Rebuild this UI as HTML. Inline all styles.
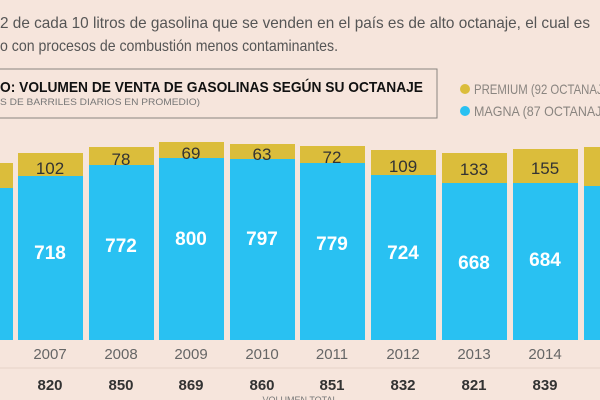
<!DOCTYPE html>
<html><head><meta charset="utf-8"><style>
html,body{margin:0;padding:0;background:#f6e5dc;}
svg{display:block;font-family:"Liberation Sans",sans-serif;}
</style></head><body>
<svg width="600" height="400" viewBox="0 0 600 400">
<rect width="600" height="400" fill="#f6e5dc"/>
<text x="0" y="28" font-size="16" fill="#555" textLength="590" lengthAdjust="spacingAndGlyphs">2 de cada 10 litros de gasolina que se venden en el país es de alto octanaje, el cual es</text>
<text x="0" y="51" font-size="16" fill="#555" textLength="338" lengthAdjust="spacingAndGlyphs">o con procesos de combustión menos contaminantes.</text>
<rect x="-5" y="69" width="442" height="49" fill="none" stroke="#8a8580" stroke-width="1"/>
<text x="0" y="92" font-size="15" font-weight="bold" fill="#111" textLength="423" lengthAdjust="spacingAndGlyphs">O: VOLUMEN DE VENTA DE GASOLINAS SEGÚN SU OCTANAJE</text>
<text x="0" y="105" font-size="9.5" fill="#777" textLength="200" lengthAdjust="spacingAndGlyphs">S DE BARRILES DIARIOS EN PROMEDIO)</text>
<circle cx="465" cy="89" r="5" fill="#dbbd3b"/>
<circle cx="465" cy="111" r="5" fill="#29c1f2"/>
<text x="474" y="94" font-size="14" fill="#8a8580" textLength="140" lengthAdjust="spacingAndGlyphs">PREMIUM (92 OCTANAJE)</text>
<text x="474" y="116" font-size="14" fill="#8a8580" textLength="140" lengthAdjust="spacingAndGlyphs">MAGNA (87 OCTANAJE)</text>
<g id="bars"></g>
<line x1="0" y1="368" x2="600" y2="368" stroke="#e6d3c8" stroke-width="1"/>
<text x="300" y="403" font-size="9" fill="#777" text-anchor="middle">VOLUMEN TOTAL</text>
<!-- bars -->
<g font-size="17" text-anchor="middle">
<rect x="-52" y="163" width="65" height="25" fill="#dbbd3b"/><rect x="-52" y="188" width="65" height="152" fill="#29c1f2"/>
<rect x="18" y="153" width="65" height="23" fill="#dbbd3b"/><rect x="18" y="176" width="65" height="164" fill="#29c1f2"/>
<rect x="89" y="147" width="65" height="18" fill="#dbbd3b"/><rect x="89" y="165" width="65" height="175" fill="#29c1f2"/>
<rect x="159" y="142" width="65" height="16" fill="#dbbd3b"/><rect x="159" y="158" width="65" height="182" fill="#29c1f2"/>
<rect x="230" y="144" width="65" height="15" fill="#dbbd3b"/><rect x="230" y="159" width="65" height="181" fill="#29c1f2"/>
<rect x="300" y="146" width="65" height="17" fill="#dbbd3b"/><rect x="300" y="163" width="65" height="177" fill="#29c1f2"/>
<rect x="371" y="150" width="65" height="25" fill="#dbbd3b"/><rect x="371" y="175" width="65" height="165" fill="#29c1f2"/>
<rect x="442" y="153" width="65" height="30" fill="#dbbd3b"/><rect x="442" y="183" width="65" height="157" fill="#29c1f2"/>
<rect x="513" y="149" width="65" height="34" fill="#dbbd3b"/><rect x="513" y="183" width="65" height="157" fill="#29c1f2"/>
<rect x="584" y="147" width="65" height="39" fill="#dbbd3b"/><rect x="584" y="186" width="65" height="154" fill="#29c1f2"/>
<g fill="#333">
<text x="50" y="174">102</text><text x="121" y="165">78</text><text x="191" y="159">69</text><text x="262" y="160">63</text><text x="332" y="163">72</text><text x="403" y="172">109</text><text x="474" y="175">133</text><text x="545" y="174">155</text>
</g>
<g fill="#fff" font-weight="bold" font-size="19">
<text x="50" y="259">718</text><text x="121" y="252">772</text><text x="191" y="245">800</text><text x="262" y="245">797</text><text x="332" y="250">779</text><text x="403" y="259">724</text><text x="474" y="269">668</text><text x="545" y="266">684</text>
</g>
<g fill="#666" font-size="15">
<text x="50" y="359">2007</text><text x="121" y="359">2008</text><text x="191" y="359">2009</text><text x="262" y="359">2010</text><text x="332" y="359">2011</text><text x="403" y="359">2012</text><text x="474" y="359">2013</text><text x="545" y="359">2014</text>
</g>
<g fill="#333" font-weight="bold" font-size="15">
<text x="50" y="390">820</text><text x="121" y="390">850</text><text x="191" y="390">869</text><text x="262" y="390">860</text><text x="332" y="390">851</text><text x="403" y="390">832</text><text x="474" y="390">821</text><text x="545" y="390">839</text>
</g>
</g>
</svg>
</body></html>
